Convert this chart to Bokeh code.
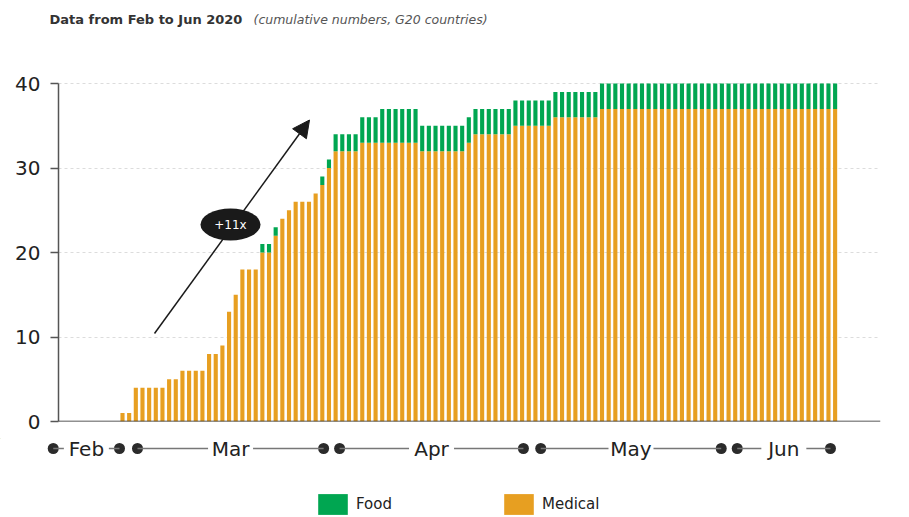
from bokeh.plotting import figure
from bokeh.models import (ColumnDataSource, Range1d, FixedTicker, Span, Label,
                          Arrow, NormalHead, Legend, LegendItem)
from bokeh.layouts import column
from bokeh.core.properties import value
from bokeh.embed import file_html
from bokeh.resources import INLINE

# ---------------- data ----------------
medical = [
    1, 1, 4, 4, 4, 4, 4, 5, 5, 6, 6, 6,
    6, 8, 8, 9, 13, 15, 18, 18, 18, 20, 20, 22,
    24, 25, 26, 26, 26, 27, 28, 30, 32, 32, 32, 32,
    33, 33, 33, 33, 33, 33, 33, 33, 33, 32, 32, 32,
    32, 32, 32, 32, 33, 34, 34, 34, 34, 34, 34, 35,
    35, 35, 35, 35, 35, 36, 36, 36, 36, 36, 36, 36,
    37, 37, 37, 37, 37, 37, 37, 37, 37, 37, 37, 37,
    37, 37, 37, 37, 37, 37, 37, 37, 37, 37, 37, 37,
    37, 37, 37, 37, 37, 37, 37, 37, 37, 37, 37, 37,
]
food = [
    0, 0, 0, 0, 0, 0, 0, 0, 0, 0, 0, 0,
    0, 0, 0, 0, 0, 0, 0, 0, 0, 1, 1, 1,
    0, 0, 0, 0, 0, 0, 1, 1, 2, 2, 2, 2,
    3, 3, 3, 4, 4, 4, 4, 4, 4, 3, 3, 3,
    3, 3, 3, 3, 3, 3, 3, 3, 3, 3, 3, 3,
    3, 3, 3, 3, 3, 3, 3, 3, 3, 3, 3, 3,
    3, 3, 3, 3, 3, 3, 3, 3, 3, 3, 3, 3,
    3, 3, 3, 3, 3, 3, 3, 3, 3, 3, 3, 3,
    3, 3, 3, 3, 3, 3, 3, 3, 3, 3, 3, 3,
]
series = ["Medical", "Food"]
y_ticks = [0, 10, 20, 30, 40]
grid_ticks = [10, 20, 30, 40]

# month timeline below the axis (in bar-index units)
months = ["Feb", "Mar", "Apr", "May", "Jun"]
month_start = [-10.4, 2.25, 32.6, 62.8, 92.3]
month_end = [-0.45, 30.2, 60.2, 89.9, 106.3]

title_bold = "Data from Feb to Jun 2020"
title_italic = "(cumulative numbers, G20 countries)"
badge_text = "+11x"

# ---------------- styling / layout (page pixels) ----------------
MED = "#E79F21"
FOOD = "#00A651"
FONT = "DejaVu Sans"
DARK = "#222222"

W = 909
H0 = 40                     # title strip
H1 = 398                    # chart
H2 = 79                     # timeline + legend
FR_L, FR_R, FR_T, FR_B = 58, 880, 78, 421   # chart frame, page px
BAR0 = 122.0                # page x of first bar centre
PPU = 6.66                  # pixels per bar
YMAX = 40.6
PPY = (FR_B - FR_T) / YMAX


def dx(sx):   # page pixel -> bar units
    return (sx - BAR0) / PPU


def dy(sy):   # page pixel -> value units
    return (FR_B - sy) / PPY


# ---------- title strip ----------
p0 = figure(width=W, height=H0, x_range=Range1d(0, W), y_range=Range1d(H0, 0),
            x_axis_location=None, y_axis_location=None, min_border=0,
            toolbar_location=None, output_backend="svg")
p0.frame_align = False
p0.outline_line_color = None
p0.grid.visible = False
p0.text(x=[49], y=[18.5], text=[title_bold], text_font=value(FONT),
        text_font_size="13px", text_font_style="bold", text_color="#333333",
        text_baseline="middle")
p0.text(x=[253], y=[18.5], text=[title_italic], text_font=value(FONT),
        text_font_size="12.5px", text_font_style="italic", text_color="#555555",
        text_baseline="middle")

# ---------- chart ----------
xa = dx(FR_L)
xb = dx(FR_R)
p = figure(width=W, height=H1, x_range=Range1d(xa, xb), y_range=Range1d(0, YMAX),
           min_border_left=FR_L, min_border_right=W - FR_R,
           min_border_top=FR_T - H0, min_border_bottom=H0 + H1 - FR_B,
           x_axis_location=None, toolbar_location=None, output_backend="svg")
p.frame_align = False
p.outline_line_color = None

p.yaxis.ticker = FixedTicker(ticks=y_ticks)
p.yaxis.bounds = (0, 40)
p.yaxis.axis_line_color = "#555555"
p.yaxis.axis_line_width = 1.5
p.yaxis.major_tick_line_color = "#555555"
p.yaxis.major_tick_line_width = 1.5
p.yaxis.major_tick_out = 8
p.yaxis.major_tick_in = 0
p.yaxis.minor_tick_line_color = None
p.yaxis.major_label_text_font = FONT
p.yaxis.major_label_text_font_size = "20px"
p.yaxis.major_label_text_color = DARK
p.yaxis.major_label_standoff = 10

p.ygrid.ticker = FixedTicker(ticks=grid_ticks)
p.ygrid.grid_line_color = "#dcdcdc"
p.ygrid.grid_line_dash = "3 3"
p.ygrid.grid_line_width = 1
p.xgrid.visible = False

src = ColumnDataSource(dict(x=list(range(len(medical))), Medical=medical, Food=food))
p.vbar_stack(series, x="x", width=0.62, fill_color=[MED, FOOD], line_color=None,
             source=src)

p.add_layout(Span(location=0, dimension="width", line_color=DARK, line_width=1.5))

arrow = Arrow(x_start=dx(154), y_start=dy(333), x_end=dx(309), y_end=dy(119.5),
              line_color="#1a1a1a", line_width=1.5,
              end=NormalHead(size=17, fill_color="#1a1a1a", line_color="#1a1a1a"))
arrow.level = "underlay"
p.add_layout(arrow)

p.ellipse(x=[dx(230)], y=[dy(224)], width=[60], height=[32], width_units="screen",
          height_units="screen", fill_color="#1a1a1a", line_color=None)
p.add_layout(Label(x=dx(230), y=dy(224), text=badge_text, text_color="white",
                   text_font=FONT, text_font_size="12px", text_align="center",
                   text_baseline="middle"))

# ---------- timeline + legend ----------
xa2 = dx(0)
xb2 = dx(W)
y_top2 = H0 + H1
p2 = figure(width=W, height=H2, x_range=Range1d(xa2, xb2),
            y_range=Range1d(y_top2 + H2, y_top2),
            x_axis_location=None, y_axis_location=None, min_border=0,
            toolbar_location=None, output_backend="svg")
p2.frame_align = False
p2.outline_line_color = None
p2.grid.visible = False

TL_Y = 448
n = len(months)
mid = [(a + b) / 2 for a, b in zip(month_start, month_end)]
p2.scatter(x=month_start + month_end, y=[TL_Y] * (2 * n), size=11,
           fill_color="#2b2b2b", line_color=None)
p2.segment(x0=month_start, y0=[TL_Y] * n, x1=month_end, y1=[TL_Y] * n,
           line_color="#777777", line_width=1.5)
p2.rect(x=mid, y=[TL_Y] * n, width=45, height=22, width_units="screen",
        height_units="screen", fill_color="white", line_color=None)
p2.text(x=mid, y=[TL_Y] * n, text=months, text_font=value(FONT),
        text_font_size="20px", text_color=DARK, text_align="center",
        text_baseline="middle")

r_food = p2.vbar(x=[-1000], top=[1], width=0.6, fill_color=FOOD, line_color=None)
r_med = p2.vbar(x=[-1000], top=[1], width=0.6, fill_color=MED, line_color=None)
legend = Legend(items=[LegendItem(label="Food", renderers=[r_food]),
                       LegendItem(label="Medical", renderers=[r_med])],
                orientation="horizontal", location=(314, 0), glyph_width=37,
                glyph_height=26, label_standoff=5, spacing=108, padding=0,
                margin=0, border_line_alpha=0, background_fill_alpha=0,
                label_text_font=FONT, label_text_font_size="15px",
                label_text_color=DARK, label_height=20)
p2.add_layout(legend)

layout = column(p0, p, p2)
open("out.html", "w").write(file_html(layout, INLINE))
